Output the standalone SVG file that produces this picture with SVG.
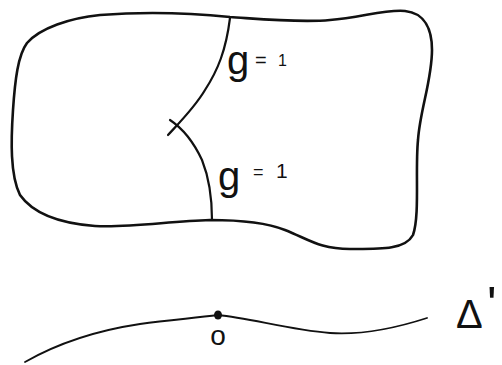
<svg xmlns="http://www.w3.org/2000/svg" width="502" height="365" viewBox="0 0 502 365">
<style>
.ink{fill:none;stroke:#111;stroke-linecap:round;stroke-linejoin:round}
.lbl{font-family:"Liberation Sans",Arial,sans-serif;fill:#111}
</style>
<rect width="502" height="365" fill="#fff"/>
<g id="region">
<path class="ink" stroke-width="2.6" d="M27,43 C40,28 70,18 100,15 C140,12 190,13 230,17 C260,19 300,23 330,20 C360,18 385,9 405,11 C425,13 432,30 432,50 C432,80 420,110 418,140 C415,170 420,215 413,235 C405,250 380,249 350,249 C320,249 310,240 285,230 C270,224 245,220 210,220 C170,221 130,228 95,226 C55,223 32,212 20,195 C10,175 11,140 13,110 C15,80 18,55 27,43 Z"/>
</g>
<g id="connectors">
<path id="upper" class="ink" stroke-width="2.2" d="M230,18 C226,50 218,70 205,90 C195,107 180,122 168,135"/>
<path id="lower" class="ink" stroke-width="2.2" d="M170,120 C185,130 195,145 202,160 C210,180 212,200 212,220"/>
</g>
<g id="label-upper">
<text class="lbl" x="227" y="74" font-size="40">g<tspan font-size="20" x="255" y="67">=</tspan><tspan font-size="16" x="278" y="66">1</tspan></text>
</g>
<g id="label-lower">
<text class="lbl" x="218" y="190" font-size="40">g<tspan font-size="18" x="253" y="178">=</tspan><tspan font-size="21" x="276" y="178">1</tspan></text>
</g>
<g id="axis">
<path class="ink" stroke="#444" stroke-width="1.8" d="M25,362 C60,342 100,330 140,324 C170,320 195,318 218,315 C250,318 290,330 330,333 C360,335 390,330 427,318"/>
<ellipse cx="218" cy="315" rx="4" ry="4.5" fill="#111"/>
<text class="lbl" x="218" y="345" font-size="28" text-anchor="middle">o</text>
<text class="lbl" x="456" y="328" font-size="40">Δ<tspan font-size="50" x="487" y="322">'</tspan></text>
</g>
</svg>
